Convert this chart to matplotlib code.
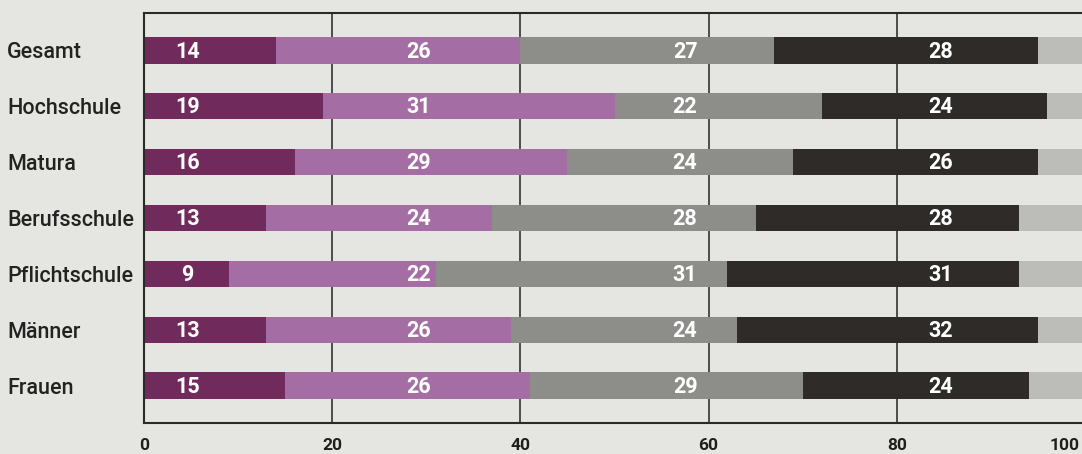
import matplotlib
matplotlib.use("Agg")
import matplotlib.pyplot as plt
import matplotlib.transforms as mtransforms
import numpy as np

# ---- data ----
categories = ["Gesamt", "Hochschule", "Matura", "Berufsschule",
              "Pflichtschule", "Männer", "Frauen"]
seg1 = [14, 19, 16, 13, 9, 13, 15]
seg2 = [26, 31, 29, 24, 22, 26, 26]
seg3 = [27, 22, 24, 28, 31, 24, 29]
seg4 = [28, 24, 26, 28, 31, 32, 24]
seg5 = [5, 4, 5, 7, 7, 5, 6]
x_ticks = [0, 20, 40, 60, 80, 100]

# ---- style / layout ----
colors = ["#702a5b", "#a46ea4", "#8d8d89", "#2e2b28", "#bcbdb8"]
label_x = [4.6, 29.2, 57.5, 84.7]   # fixed label columns (data units)
bg = "#e5e6e1"
cond = ["Roboto", "DejaVu Sans"]

fig = plt.figure(figsize=(10.82, 4.54), dpi=100, facecolor=bg)
ax = fig.add_axes([144/1082, 1-423/454, (1085-144)/1082, (423-13)/454])
ax.set_facecolor(bg)

series = [seg1, seg2, seg3, seg4, seg5]
y = np.arange(len(categories))
left = np.zeros(len(categories))
for vals, c in zip(series, colors):
    ax.barh(y, vals, left=left, height=0.47, color=c, zorder=2)
    left += np.array(vals)

for i in range(len(categories)):
    for j, vals in enumerate(series[:4]):
        ax.text(label_x[j], y[i] + 0.02, str(vals[i]), ha="center", va="center",
                color="white", fontsize=15.5, fontweight="bold",
                family=cond, zorder=3)

ax.set_xlim(0, 100)
ax.set_ylim(len(categories) - 0.33, -0.67)
ax.set_xticks(x_ticks)
tick_font = dict(fontsize=12.5, fontweight="bold", family=cond, color="#1e1e1e")
ax.set_xticklabels([str(t) for t in x_ticks[:-1]] + [""], **tick_font)
ax.tick_params(axis="x", length=0, pad=10.5)
# last tick label is right-aligned so it stays inside the picture
ax.annotate(str(x_ticks[-1]), xy=(x_ticks[-1], 0),
            xycoords=mtransforms.blended_transform_factory(ax.transData, ax.transAxes),
            xytext=(-4, -10.5), textcoords="offset points",
            ha="right", va="top", annotation_clip=False, **tick_font)

ax.set_yticks(y)
ax.set_yticklabels(categories, fontsize=15.5, fontweight="medium",
                   family=cond, color="#222222")
ax.tick_params(axis="y", length=0, pad=0)
for lab in ax.get_yticklabels():
    lab.set_ha("left")
    lab.set_transform(mtransforms.blended_transform_factory(
        fig.transFigure, ax.transData))
    lab.set_x(7/1082)

ax.grid(axis="x", color="#333333", linewidth=1.2, zorder=0)
ax.set_axisbelow(True)
for s in ["left", "top", "bottom"]:
    ax.spines[s].set_color("#2a2a2a")
    ax.spines[s].set_linewidth(1.5)
ax.spines["right"].set_visible(False)

fig.savefig("out.png", dpi=100, facecolor=bg)
